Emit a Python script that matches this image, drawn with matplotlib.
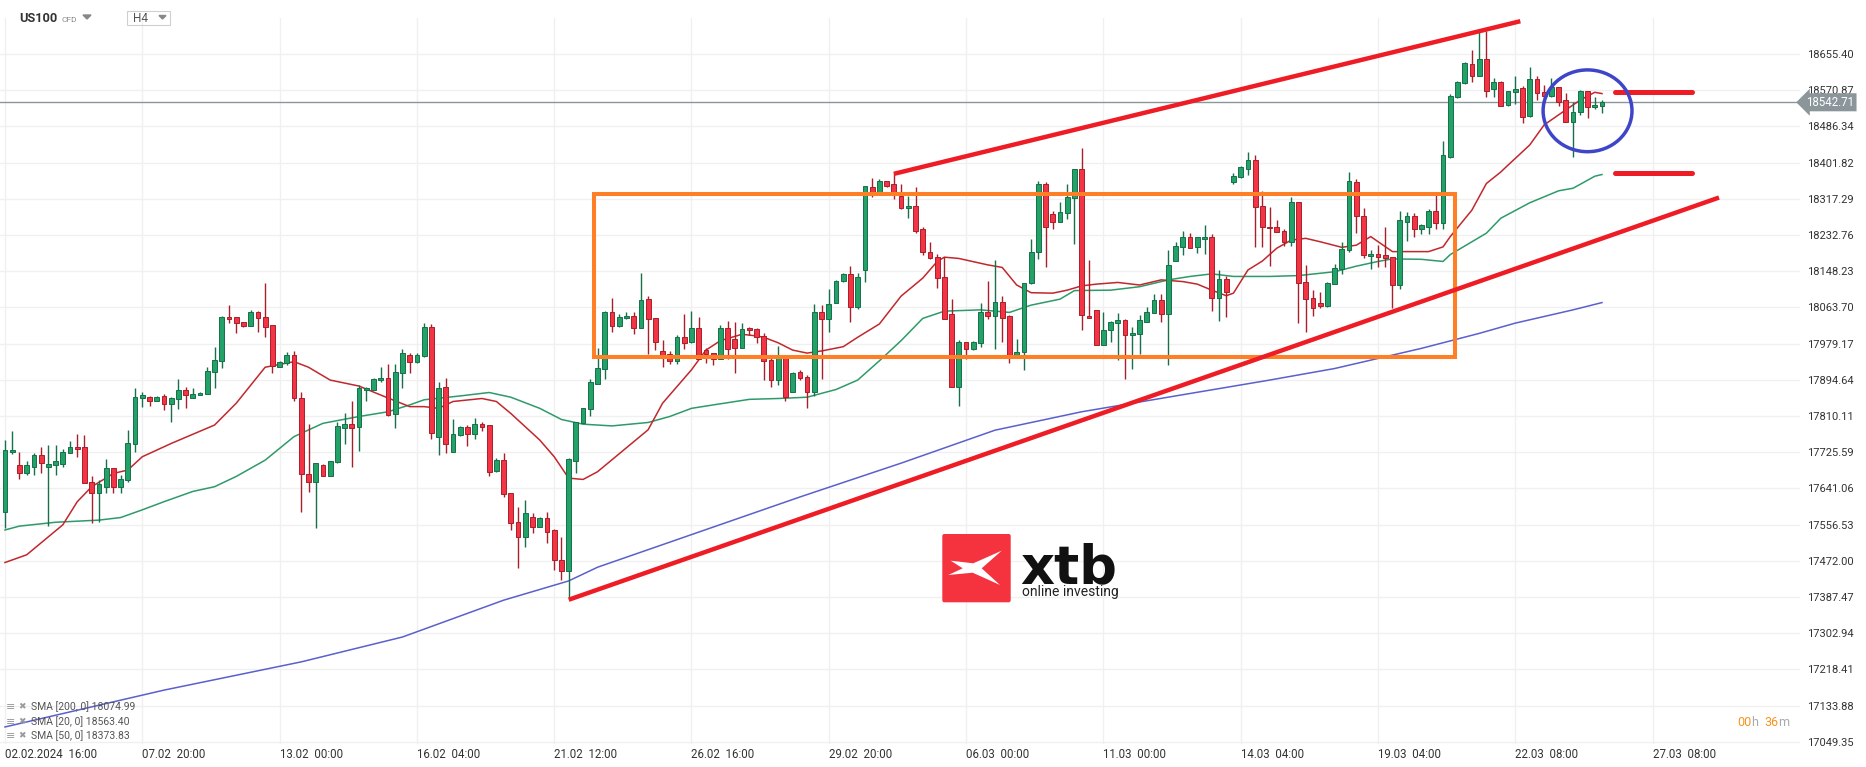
import numpy as np
import matplotlib
matplotlib.use('Agg')
import matplotlib.pyplot as plt
import matplotlib.transforms as mtransforms
from matplotlib.patches import Rectangle, Ellipse, FancyBboxPatch, Polygon

plt.rcParams['font.family'] = ['Roboto', 'DejaVu Sans']

# H4 candles, US100 (index 0 = 02.02.2024 16:00)
opens = [17587, 17725, 17696, 17676, 17692, 17719, 17690, 17696, 17697, 17723,
         17738, 17738, 17655, 17630, 17644, 17688, 17645, 17661, 17744, 17851,
         17854, 17844, 17857, 17837, 17850, 17871, 17851, 17859, 17861, 17912,
         17939, 18041, 18041, 18030, 18021, 18053, 18041, 18023, 17925, 17935,
         17952, 17851, 17674, 17655, 17695, 17671, 17702, 17783, 17792, 17784,
         17871, 17872, 17894, 17898, 17814, 17910, 17952, 17937, 17950, 18017,
         17762, 17877, 17727, 17766, 17785, 17768, 17792, 17788, 17682, 17707,
         17630, 17562, 17528, 17574, 17552, 17571, 17544, 17474, 17449, 17704,
         17793, 17826, 17886, 17919, 18054, 18021, 18038, 18044, 18016, 18083,
         18038, 17962, 17954, 17939, 17994, 17984, 18015, 17964, 17957, 17943,
         18015, 17989, 17968, 18016, 18013, 17997, 17941, 17894, 17949, 17867,
         17912, 17902, 17867, 18054, 18036, 18073, 18125, 18141, 18064, 18150,
         18344, 18334, 18358, 18353, 18325, 18295, 18301, 18246, 18194, 18181,
         18134, 18048, 17877, 17982, 17966, 17980, 18052, 18044, 18077, 18044,
         17945, 17959, 18120, 18192, 18353, 18281, 18264, 18283, 18320, 18388,
         18044, 18058, 17976, 18011, 18027, 18034, 17999, 18001, 18030, 18050,
         18081, 18048, 18171, 18204, 18227, 18204, 18223, 18227, 18085, 18129,
         18356, 18369, 18388, 18408, 18300, 18252, 18251, 18241, 18217, 18309,
         18124, 18085, 18073, 18068, 18118, 18153, 18198, 18357, 18278, 18184,
         18188, 18186, 18181, 18116, 18264, 18278, 18246, 18252, 18289, 18260,
         18416, 18554, 18587, 18631, 18603, 18644, 18574, 18589, 18536, 18566,
         18577, 18511, 18596, 18566, 18558, 18578, 18547, 18497, 18519, 18569,
         18531, 18533]
highs = [17754, 17775, 17725, 17704, 17723, 17737, 17742, 17742, 17732, 17752,
         17768, 17766, 17669, 17661, 17710, 17688, 17672, 17778, 17875, 17866,
         17857, 17857, 17861, 17855, 17897, 17877, 17875, 17867, 17924, 17971,
         18044, 18069, 18041, 18030, 18058, 18055, 18120, 18023, 17939, 17960,
         17962, 17865, 17792, 17701, 17697, 17704, 17797, 17816, 17844, 17883,
         17879, 17900, 17924, 17932, 17932, 17966, 17958, 17958, 18027, 18025,
         17890, 17900, 17802, 17787, 17788, 17805, 17797, 17789, 17711, 17723,
         17630, 17597, 17614, 17584, 17575, 17585, 17546, 17527, 17711, 17797,
         17828, 17897, 17968, 18055, 18086, 18048, 18052, 18052, 18143, 18090,
         18038, 17988, 17962, 17999, 18048, 18056, 18042, 17968, 17957, 18023,
         18032, 18030, 18028, 18019, 18015, 18003, 17949, 17974, 17949, 17914,
         17918, 17906, 18072, 18069, 18106, 18128, 18143, 18160, 18143, 18347,
         18367, 18364, 18358, 18377, 18352, 18324, 18344, 18251, 18216, 18188,
         18181, 18083, 17988, 17984, 17985, 18073, 18125, 18174, 18090, 18046,
         17989, 18121, 18223, 18359, 18356, 18289, 18311, 18353, 18388, 18435,
         18174, 18058, 18054, 18032, 18051, 18037, 18019, 18046, 18064, 18095,
         18095, 18198, 18217, 18241, 18237, 18229, 18255, 18235, 18151, 18136,
         18378, 18394, 18426, 18420, 18336, 18297, 18268, 18247, 18322, 18311,
         18163, 18104, 18100, 18124, 18165, 18217, 18381, 18363, 18295, 18198,
         18209, 18251, 18181, 18289, 18286, 18283, 18258, 18293, 18334, 18452,
         18562, 18593, 18636, 18665, 18708, 18708, 18599, 18593, 18570, 18604,
         18581, 18624, 18603, 18583, 18600, 18578, 18564, 18543, 18571, 18569,
         18556, 18547]
lows = [17548, 17722, 17663, 17672, 17672, 17676, 17553, 17672, 17692, 17723,
        17715, 17653, 17561, 17563, 17630, 17630, 17630, 17655, 17727, 17830,
        17834, 17844, 17823, 17795, 17827, 17828, 17851, 17859, 17861, 17875,
        17923, 18028, 18003, 18019, 18021, 18007, 17994, 17911, 17925, 17929,
        17844, 17587, 17632, 17548, 17669, 17671, 17700, 17744, 17690, 17729,
        17844, 17871, 17890, 17811, 17781, 17875, 17911, 17933, 17949, 17756,
        17718, 17723, 17727, 17764, 17740, 17756, 17774, 17669, 17680, 17620,
        17544, 17455, 17505, 17538, 17552, 17514, 17451, 17427, 17384, 17676,
        17793, 17811, 17886, 17897, 18007, 18017, 18036, 18001, 18015, 17955,
        17964, 17924, 17931, 17932, 17967, 17980, 17943, 17935, 17929, 17943,
        17943, 17910, 17968, 18000, 17981, 17894, 17877, 17883, 17846, 17865,
        17894, 17828, 17857, 17897, 18007, 18073, 18124, 18030, 18059, 18122,
        18322, 18332, 18344, 18316, 18293, 18272, 18237, 18185, 18176, 18108,
        18036, 17877, 17834, 17943, 17964, 17971, 18036, 17966, 17984, 17933,
        17945, 17918, 18118, 18176, 18159, 18247, 18262, 18270, 18212, 18011,
        18038, 17976, 17976, 17984, 17941, 17896, 17919, 17955, 18030, 18050,
        18030, 17929, 18171, 18186, 18202, 18190, 18188, 18056, 18033, 18041,
        18353, 18365, 18374, 18204, 18204, 18161, 18239, 18206, 18208, 18028,
        18007, 18044, 18063, 18064, 18118, 18141, 18192, 18237, 18178, 18153,
        18159, 18159, 18062, 18106, 18219, 18227, 18234, 18234, 18246, 18247,
        18413, 18552, 18585, 18591, 18603, 18554, 18554, 18533, 18534, 18538,
        18494, 18509, 18547, 18546, 18556, 18533, 18496, 18416, 18513, 18507,
        18527, 18517]
closes = [17731, 17731, 17676, 17696, 17719, 17701, 17698, 17705, 17726, 17738,
          17732, 17653, 17630, 17651, 17688, 17645, 17662, 17746, 17854, 17858,
          17845, 17855, 17837, 17851, 17871, 17858, 17861, 17863, 17915, 17940,
          18041, 18036, 18028, 18021, 18052, 18038, 18019, 17927, 17937, 17952,
          17851, 17674, 17655, 17700, 17671, 17704, 17787, 17791, 17783, 17875,
          17875, 17897, 17898, 17813, 17912, 17957, 17937, 17953, 18017, 17770,
          17875, 17744, 17767, 17785, 17768, 17791, 17785, 17680, 17707, 17627,
          17560, 17528, 17583, 17552, 17573, 17540, 17474, 17449, 17709, 17797,
          17828, 17889, 17922, 18054, 18021, 18041, 18044, 18016, 18081, 18036,
          17984, 17953, 17939, 17994, 17981, 18015, 17943, 17955, 17943, 18015,
          17967, 17968, 18013, 18011, 17994, 17939, 17894, 17949, 17855, 17910,
          17900, 17867, 18054, 18036, 18071, 18126, 18141, 18064, 18134, 18347,
          18332, 18358, 18348, 18332, 18295, 18301, 18242, 18192, 18178, 18132,
          18036, 17877, 17982, 17966, 17982, 18052, 18044, 18077, 18038, 17945,
          17960, 18120, 18192, 18353, 18252, 18264, 18286, 18322, 18388, 18046,
          18038, 17976, 18011, 18029, 18034, 17999, 18005, 18034, 18052, 18081,
          18048, 18163, 18207, 18227, 18202, 18227, 18227, 18085, 18129, 18100,
          18371, 18391, 18409, 18297, 18251, 18248, 18239, 18217, 18311, 18121,
          18083, 18062, 18068, 18120, 18155, 18200, 18359, 18276, 18185, 18188,
          18182, 18180, 18116, 18268, 18278, 18246, 18255, 18289, 18260, 18420,
          18557, 18589, 18634, 18605, 18644, 18570, 18589, 18535, 18568, 18574,
          18509, 18596, 18564, 18557, 18578, 18544, 18497, 18521, 18569, 18531,
          18536, 18542.71]

# moving averages (candle index, value)
sma20_idx = [0, 3, 8, 10, 12, 15, 17, 19, 23, 29, 32, 36, 40, 42, 45, 49, 52, 56, 58, 60,
             62, 66, 68, 70, 74, 76, 78, 80, 82, 89, 91, 95, 97, 99, 102, 104, 105, 107, 109, 111,
             113, 116, 118, 121, 124, 127, 129, 130, 132, 136, 138, 140, 142, 145, 147, 149, 151, 154, 157, 160,
             163, 165, 167, 169, 170, 172, 174, 176, 178, 180, 182, 185, 187, 189, 192, 194, 197, 199, 200, 203,
             205, 207, 208, 211, 213, 216, 218, 220, 221]
sma20_val = [17468, 17486, 17556, 17610, 17645, 17676, 17684, 17715, 17746, 17789, 17840, 17924, 17937, 17924, 17894, 17880, 17859, 17832, 17832, 17828,
             17844, 17851, 17844, 17816, 17754, 17715, 17665, 17662, 17680, 17778, 17840, 17918, 17964, 17986, 18001, 17997, 17994, 17981, 17964, 17957,
             17962, 17972, 17994, 18025, 18090, 18132, 18171, 18181, 18178, 18163, 18157, 18116, 18098, 18097, 18104, 18114, 18118, 18122, 18116, 18128,
             18124, 18118, 18104, 18091, 18097, 18151, 18172, 18202, 18221, 18225, 18217, 18204, 18209, 18229, 18194, 18194, 18194, 18205, 18229, 18291,
             18353, 18380, 18396, 18443, 18490, 18525, 18548, 18566, 18563]
sma50_idx = [0, 2, 7, 13, 16, 19, 22, 26, 29, 32, 36, 40, 44, 49, 53, 56, 58, 63, 67, 70,
             74, 77, 80, 84, 89, 92, 95, 98, 103, 107, 111, 115, 118, 121, 124, 127, 130, 135, 139, 142,
             146, 148, 153, 157, 161, 164, 167, 170, 175, 179, 184, 187, 190, 192, 196, 199, 200, 205, 207, 211,
             215, 217, 220, 221]
sma50_val = [17544, 17553, 17562, 17567, 17573, 17591, 17610, 17634, 17645, 17669, 17707, 17762, 17793, 17809, 17820, 17836, 17848, 17857, 17865, 17854,
             17828, 17802, 17791, 17787, 17795, 17809, 17828, 17836, 17849, 17851, 17854, 17872, 17894, 17939, 17986, 18038, 18055, 18058, 18052, 18069,
             18083, 18103, 18104, 18112, 18128, 18136, 18142, 18136, 18136, 18138, 18147, 18160, 18171, 18177, 18176, 18171, 18187, 18237, 18272, 18308,
             18336, 18342, 18370, 18374]
sma200_idx = [0, 22, 41, 55, 69, 78, 82, 96, 110, 124, 137, 149, 175, 184, 196, 204, 209, 217, 221]
sma200_val = [17084, 17170, 17236, 17294, 17380, 17425, 17457, 17539, 17621, 17700, 17777, 17820, 17894, 17921, 17968, 18003, 18027, 18058, 18075]

last_price = 18542.71

# drawn annotations (candle index, price)
box_idx = [81.5, 200.7]
box_price = [17948.6, 18327.8]
trend_low_idx = [78.3, 236.9]
trend_low_price = [17382.8, 18318.5]
trend_up_idx = [123.3, 209.4]
trend_up_price = [18376.8, 18730.8]
level_idx = [222.8, 233.4]
level_price = [18566, 18377]
circle_center = (219.0, 18522.8)
circle_size = (12.3, 191)

y_ticks = [18655.40, 18570.87, 18486.34, 18401.82, 18317.29, 18232.76, 18148.23,
           18063.70, 17979.17, 17894.64, 17810.11, 17725.59, 17641.06, 17556.53,
           17472.00, 17387.47, 17302.94, 17218.41, 17133.88, 17049.35]
x_tick_idx = [0, 19, 38, 57, 76, 95, 114, 133, 152, 171, 190, 209, 228]
x_tick_labels = ['02.02.2024  16:00', '07.02  20:00', '13.02  00:00', '16.02  04:00',
                 '21.02  12:00', '26.02  16:00', '29.02  20:00', '06.03  00:00',
                 '11.03  00:00', '14.03  04:00', '19.03  04:00', '22.03  08:00',
                 '27.03  08:00']
legend_rows = ['SMA [200, 0] 18074.99', 'SMA [20, 0] 18563.40', 'SMA [50, 0] 18373.83']

W, H = 1866, 767
fig = plt.figure(figsize=(W / 100, H / 100), dpi=100, facecolor='white')
ax = fig.add_axes([0, (H - 744) / H, 1800 / W, (744 - 18) / H])
ax.set_xlim(-0.692, 248.4)
ax.set_ylim(17044.2, 18739.5)
for s in ax.spines.values():
    s.set_visible(False)

ax.set_yticks(y_ticks)
ax.set_yticklabels(['%.2f' % v for v in y_ticks])
ax.yaxis.tick_right()
ax.tick_params(axis='y', length=0, pad=5, labelsize=8, labelcolor='#333333')
ax.set_xticks(x_tick_idx)
ax.set_xticklabels(x_tick_labels)
ax.tick_params(axis='x', length=0, pad=3, labelsize=8.3, labelcolor='#333333')
for lbl in ax.get_xticklabels():
    lbl.set_ha('left')
ax.grid(color='#f0f0f0', lw=1)
ax.set_axisbelow(True)

o = np.array(opens, float)
h = np.array(highs, float)
l = np.array(lows, float)
c = np.array(closes, float)
idx = np.arange(len(c))
up = c >= o

ax.axhline(last_price, color='#8b969b', lw=1, zorder=1.5)

ax.plot(sma200_idx, sma200_val, color='#5a60cc', lw=1.1, zorder=2)
ax.plot(sma50_idx, sma50_val, color='#2e9a6a', lw=1.1, zorder=2)
ax.plot(sma20_idx, sma20_val, color='#c0282d', lw=1.1, zorder=2)

g_fill, g_edge = '#22a266', '#16704a'
r_fill, r_edge = '#f23445', '#a81f2a'
ax.vlines(idx[up], l[up], h[up], color=g_edge, lw=1, zorder=3)
ax.vlines(idx[~up], l[~up], h[~up], color=r_edge, lw=1, zorder=3)
ax.bar(idx[up], np.maximum(c[up] - o[up], 2), bottom=o[up], width=0.66,
       color=g_fill, edgecolor=g_edge, lw=0.7, zorder=4)
ax.bar(idx[~up], np.maximum(o[~up] - c[~up], 2), bottom=c[~up], width=0.66,
       color=r_fill, edgecolor=r_edge, lw=0.7, zorder=4)

ax.add_patch(Rectangle((box_idx[0], box_price[0]), box_idx[1] - box_idx[0],
                       box_price[1] - box_price[0], fill=False, ec='#ff7f27', lw=2.9, zorder=5))
ax.plot(trend_low_idx, trend_low_price, color='#ee1c25', lw=3.2, zorder=5)
ax.plot(trend_up_idx, trend_up_price, color='#ee1c25', lw=3.2, zorder=5)
for p in level_price:
    ax.plot(level_idx, [p, p], color='#ee1c25', lw=3.6, solid_capstyle='round', zorder=5)
ax.add_patch(Ellipse(circle_center, circle_size[0], circle_size[1], fill=False,
                     ec='#3f45c9', lw=2.5, zorder=6))

trans = mtransforms.blended_transform_factory(ax.transAxes, ax.transData)
ax.text(1.0 + 6 / 1800, last_price, '%.2f' % last_price, transform=trans, ha='left',
        va='center', fontsize=8.3, color='white', clip_on=False, zorder=10,
        bbox=dict(boxstyle='larrow,pad=0.22', fc='#8b969b', ec='none'))

# overlay in pixel coordinates for the chrome
ov = fig.add_axes([0, 0, 1, 1])
ov.set_xlim(0, W)
ov.set_ylim(H, 0)
ov.axis('off')
ov.patch.set_alpha(0)

ov.text(19, 19, 'US100', fontsize=9.2, fontweight='bold', color='#333333', va='center')
ov.text(61, 19.5, 'CFD', fontsize=6, color='#888888', va='center')
ov.add_patch(Polygon([(83, 15), (91, 15), (87, 19)], color='#888888'))
ov.add_patch(Rectangle((127, 10.7), 43, 14.6, fill=False, ec='#cfcfcf', lw=0.8))
ov.text(133, 19, 'H4', fontsize=8.5, color='#555555', va='center')
ov.add_patch(Polygon([(159, 15.5), (166, 15.5), (162.5, 19)], color='#888888'))

# logo
ov.add_patch(FancyBboxPatch((942.3, 534), 68.4, 68.3, boxstyle='round,pad=0,rounding_size=2',
                            fc='#f5333f', ec='none'))
ov.add_patch(Polygon([(950.7, 560.7), (973.3, 563.3), (1001.7, 550.7), (981.7, 568.3),
                      (1000, 585), (972.7, 572.7), (948.3, 575), (962.7, 568.3)],
                     fc='white', ec='none'))
ov.text(1020, 583, 'xtb', fontsize=38, fontweight='bold', color='#111111', va='baseline',
        fontfamily='DejaVu Sans')
ov.text(1022, 596, 'online investing', fontsize=10, color='#222222', va='baseline')

# indicator legend
for k, txt in enumerate(legend_rows):
    y = 707 + 14.5 * k
    ov.text(6, y, '\u2261', fontsize=8, color='#9a9a9a', va='center')
    ov.text(18, y, '\u2716', fontsize=6.5, color='#9a9a9a', va='center')
    ov.text(31, y, txt, fontsize=7.5, color='#555555', va='center')

# countdown
ov.text(1737, 722, '00', fontsize=9, color='#f7931e', va='center')
ov.text(1751, 722, 'h', fontsize=9, color='#aaaaaa', va='center')
ov.text(1764, 722, '36', fontsize=9, color='#f7931e', va='center')
ov.text(1778, 722, 'm', fontsize=9, color='#aaaaaa', va='center')

fig.savefig('out.png', dpi=100, facecolor='white')
